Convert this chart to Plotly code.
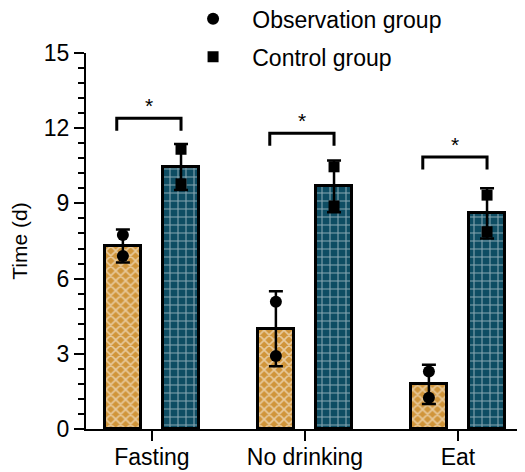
import plotly.graph_objects as go

# data
categories = ["Fasting", "No drinking", "Eat"]
obs_mean = [7.3, 4.0, 1.78]
obs_sd = [0.66, 1.5, 0.78]
obs_points = [[7.74, 6.9], [5.08, 2.91], [2.29, 1.25]]
ctrl_mean = [10.45, 9.68, 8.6]
ctrl_sd = [0.92, 1.03, 1.0]
ctrl_points = [[11.16, 9.78], [10.46, 8.9], [9.33, 7.87]]
bracket_y = [12.4, 11.8, 10.85]
stars = ["*", "*", "*"]

OBS_COLOR = "#D0953A"
CTRL_COLOR = "#0E4D63"
FONT = "Arial, Liberation Sans, sans-serif"
off = 0.19
bw = 0.24

xs = list(range(len(categories)))
obs_x = [x - off for x in xs]
ctrl_x = [x + off for x in xs]

fig = go.Figure()

fig.add_trace(go.Bar(
    x=obs_x, y=obs_mean, width=bw, showlegend=False,
    marker=dict(color=OBS_COLOR, line=dict(color="black", width=3),
                pattern=dict(shape="x", fgcolor="white", bgcolor=OBS_COLOR,
                             size=7, solidity=0.4)),
    error_y=dict(type="data", array=obs_sd, color="black", thickness=2.5, width=7),
))
fig.add_trace(go.Bar(
    x=ctrl_x, y=ctrl_mean, width=bw, showlegend=False,
    marker=dict(color=CTRL_COLOR, line=dict(color="black", width=3),
                pattern=dict(shape="+", fgcolor="white", bgcolor=CTRL_COLOR,
                             size=8, solidity=0.25)),
    error_y=dict(type="data", array=ctrl_sd, color="black", thickness=2.5, width=7),
))

# individual points
px_o, py_o, px_c, py_c = [], [], [], []
for i in xs:
    for v in obs_points[i]:
        px_o.append(obs_x[i]); py_o.append(v)
    for v in ctrl_points[i]:
        px_c.append(ctrl_x[i]); py_c.append(v)

fig.add_trace(go.Scatter(
    x=px_o, y=py_o, mode="markers", name="\u00a0\u00a0\u00a0Observation group",
    legendgroup="a", marker=dict(symbol="circle", size=12, color="black"),
))
fig.add_trace(go.Scatter(
    x=px_c, y=py_c, mode="markers", name="\u00a0\u00a0\u00a0Control group",
    legendgroup="b", marker=dict(symbol="square", size=11, color="black"),
))

# significance brackets
for i in xs:
    left, right, top = i - 0.23, i + 0.19, bracket_y[i]
    leg = top - 0.5
    fig.add_shape(type="path",
                  path=f"M {left},{leg} L {left},{top} L {right},{top} L {right},{leg}",
                  line=dict(color="black", width=3), xref="x", yref="y")
    fig.add_annotation(x=(left + right) / 2, y=top, text=stars[i], showarrow=False,
                       yshift=13, font=dict(size=21, color="black", family=FONT))

# the page body adds an 8px offset, so margins are shifted to compensate
fig.update_layout(
    width=525, height=472,
    margin=dict(l=78, r=10, t=45, b=51, autoexpand=False),
    plot_bgcolor="white", paper_bgcolor="white",
    font=dict(family=FONT, color="black", size=23),
    legend=dict(x=0.245, y=1.148, xanchor="left", yanchor="top",
                font=dict(size=23, family=FONT), tracegroupgap=5,
                bgcolor="rgba(0,0,0,0)"),
    bargap=0,
)
fig.update_xaxes(
    range=[-0.431, 2.425], tickvals=xs, ticktext=categories,
    showline=True, linecolor="black", linewidth=2,
    ticks="outside", ticklen=10, tickwidth=2, tickcolor="black",
    tickfont=dict(size=23), ticklabelstandoff=-4,
    showgrid=False, zeroline=False, automargin=False,
)
fig.update_yaxes(
    range=[0, 15], tickvals=[0, 3, 6, 9, 12, 15],
    showline=True, linecolor="black", linewidth=2,
    ticks="outside", ticklen=10, tickwidth=2, tickcolor="black",
    tickfont=dict(size=23),
    minor=dict(dtick=0.6, ticks="outside", ticklen=6, tickwidth=2, tickcolor="black"),
    showgrid=False, zeroline=False, automargin=False,
    title=dict(text="Time (d)", font=dict(size=21), standoff=14),
)

fig.write_html("out.html")
